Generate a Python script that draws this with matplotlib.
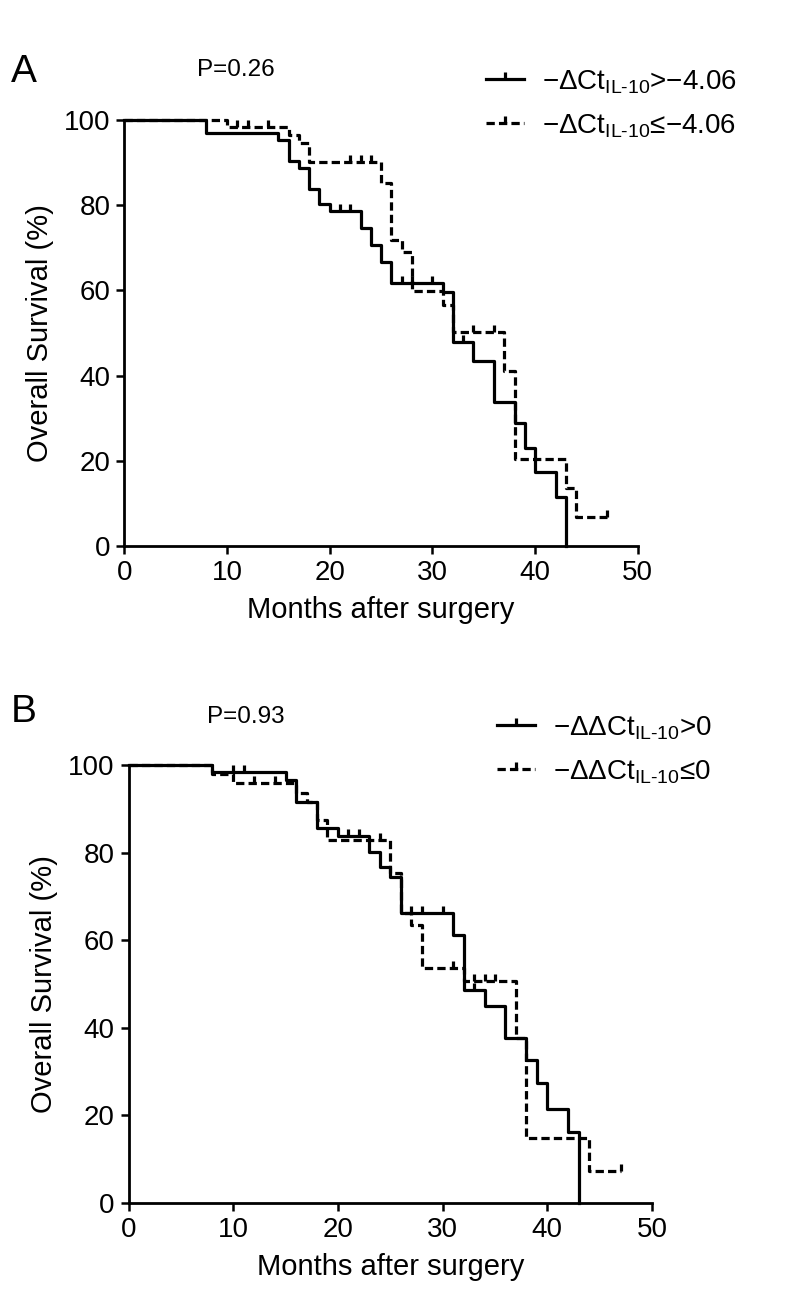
import numpy as np
import matplotlib
matplotlib.use("Agg")
import matplotlib.pyplot as plt
from matplotlib.path import Path
from matplotlib.lines import Line2D

plt.rcParams['font.family'] = ['Liberation Sans', 'DejaVu Sans']
plt.rcParams['mathtext.fontset'] = 'custom'
plt.rcParams['mathtext.rm'] = 'Liberation Sans'
plt.rcParams['mathtext.it'] = 'Liberation Sans:italic'
plt.rcParams['mathtext.default'] = 'regular'

# Panel A: -dCt IL-10 split at -4.06 (times in months, survival in %)
a_hi_t = [0, 8, 15, 16, 17, 18, 19, 20, 23, 24, 25, 26, 31, 32, 34, 36, 38, 39, 40, 42, 43]
a_hi_s = [100, 96.9, 95.3, 90.4, 88.7, 83.7, 80.3, 78.7, 74.7, 70.7, 66.7, 61.8, 59.6,
          47.9, 43.5, 33.9, 28.9, 23.0, 17.4, 11.5, 0]
a_hi_cens = [21, 22, 27, 28, 30, 33]
a_lo_t = [0, 10, 16, 17, 18, 25, 26, 27, 28, 31, 32, 37, 38, 43, 44, 47]
a_lo_s = [100, 98.3, 96.5, 94.5, 90.1, 85.3, 71.8, 68.9, 59.9, 56.6, 50.3, 41.1, 20.4,
          13.6, 6.8, 6.8]
a_lo_cens = [11, 12, 14, 22, 23, 24, 34, 36, 47]

# Panel B: -ddCt IL-10 split at 0
b_hi_t = [0, 8, 15, 16, 18, 20, 23, 24, 25, 26, 31, 32, 34, 36, 38, 39, 40, 42, 43]
b_hi_s = [100, 98.3, 96.6, 91.6, 85.7, 83.9, 80.2, 76.6, 74.5, 66.1, 61.2, 48.7, 45.0,
          37.6, 32.6, 27.3, 21.5, 16.2, 0]
b_hi_cens = [10, 11, 21, 22, 27, 28, 30, 33]
b_lo_t = [0, 8, 10, 16, 17, 18, 19, 25, 26, 27, 28, 32, 37, 38, 44, 47]
b_lo_s = [100, 97.9, 95.8, 93.5, 91.6, 87.4, 82.8, 75.3, 66.1, 63.5, 53.6, 50.7, 37.6,
          14.8, 7.2, 7.2]
b_lo_cens = [12, 14, 24, 31, 33, 34, 35, 47]

a_labels = ['\u2212\u0394Ct$_{IL\u201010}$>\u22124.06', '\u2212\u0394Ct$_{IL\u201010}$\u2264\u22124.06']
b_labels = ['\u2212\u0394\u0394Ct$_{IL\u201010}$>0', '\u2212\u0394\u0394Ct$_{IL\u201010}$\u22640']
p_values = ['P=0.26', 'P=0.93']

W, H = 786, 1297
LW = 2.3
DASH = (0, (2.6, 1.3))
tick = Path([(0, 0), (0, 1)], [Path.MOVETO, Path.LINETO])


def box(x0, y0, x1, y1):
    # pixel box -> figure fraction rect
    return [x0 / W, 1 - y1 / H, (x1 - x0) / W, (y1 - y0) / H]


def km(ax, t, s, cens, ls):
    ax.step(t, s, where='post', color='black', lw=LW, linestyle=ls, clip_on=False)
    t = np.asarray(t)
    s = np.asarray(s)
    idx = np.searchsorted(t, cens, side='right') - 1
    ax.plot(cens, s[idx], linestyle='none', marker=tick, markersize=10,
            markeredgewidth=LW, color='black', clip_on=False)


def style(ax):
    ax.set_xlim(0, 50)
    ax.set_ylim(0, 100)
    ax.set_xticks(range(0, 51, 10))
    ax.set_yticks(range(0, 101, 20))
    for side in ['top', 'right']:
        ax.spines[side].set_visible(False)
    for side in ['left', 'bottom']:
        ax.spines[side].set_linewidth(2.0)
    ax.tick_params(direction='out', length=6, width=1.8, labelsize=20, pad=4)
    ax.set_xlabel('Months after surgery', fontsize=21, labelpad=7)
    ax.set_ylabel('Overall Survival (%)', fontsize=21, labelpad=7)


def legend(ax, labels, anchor):
    handles = [Line2D([], [], color='black', lw=LW, marker=tick, markersize=10, markeredgewidth=LW),
               Line2D([], [], color='black', lw=LW, linestyle=DASH, marker=tick, markersize=10,
                      markeredgewidth=LW)]
    ax.legend(handles, labels, loc='upper left', bbox_to_anchor=anchor,
              bbox_transform=ax.figure.transFigure, frameon=False, fontsize=20,
              handlelength=1.35, handletextpad=0.65, labelspacing=0.6,
              borderpad=0, borderaxespad=0, numpoints=1)


fig = plt.figure(figsize=(W / 100, H / 100), dpi=100, facecolor='white')

ax_a = fig.add_axes(box(124.3, 120, 637.8, 546))
km(ax_a, a_hi_t, a_hi_s, a_hi_cens, '-')
km(ax_a, a_lo_t, a_lo_s, a_lo_cens, DASH)
style(ax_a)
legend(ax_a, a_labels, (486 / W, 1 - 68 / H))

ax_b = fig.add_axes(box(128.6, 765, 652, 1203))
km(ax_b, b_hi_t, b_hi_s, b_hi_cens, '-')
km(ax_b, b_lo_t, b_lo_s, b_lo_cens, DASH)
style(ax_b)
legend(ax_b, b_labels, (497 / W, 1 - 714 / H))

fig.text(24 / W, 1 - 72 / H, 'A', fontsize=28, ha='center', va='center')
fig.text(24 / W, 1 - 712 / H, 'B', fontsize=28, ha='center', va='center')
fig.text(197 / W, 1 - 70 / H, p_values[0], fontsize=17.5, ha='left', va='center')
fig.text(207 / W, 1 - 717 / H, p_values[1], fontsize=17.5, ha='left', va='center')

fig.savefig('out.png', dpi=100, facecolor='white')
